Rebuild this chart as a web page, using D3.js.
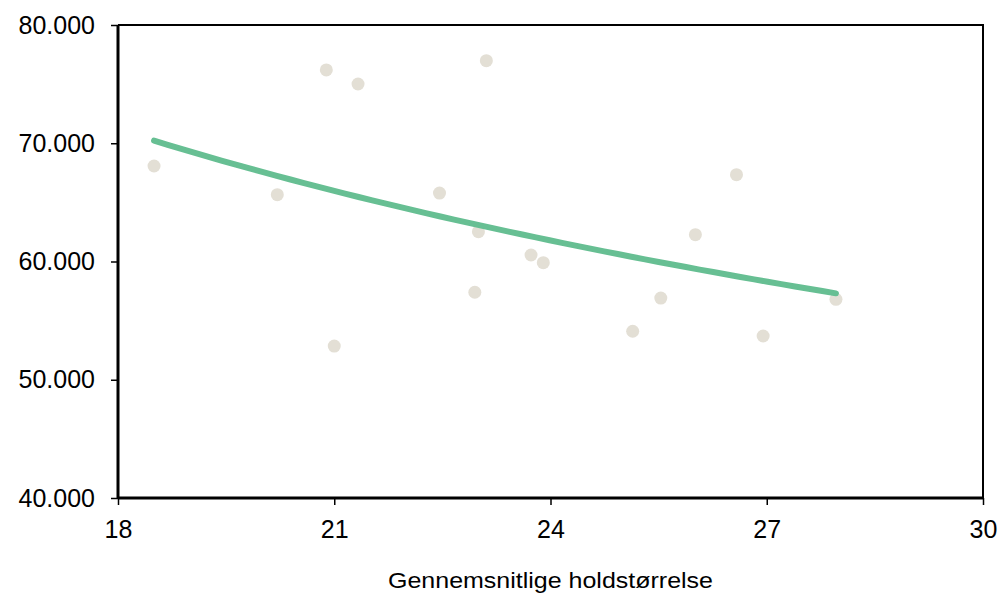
<!DOCTYPE html>
<html>
<head>
<meta charset="utf-8">
<script src="https://cdn.jsdelivr.net/npm/d3@7"></script>
<style>
  body { margin: 0; background: #fff; }
  text { font-family: "Liberation Sans", Arial, sans-serif; fill: #000; }
</style>
</head>
<body>
<svg id="chart" width="1000" height="597"></svg>
<script>
// holdstørrelse (x) og værdi (y)
var holdSize = [18.50, 20.21, 20.89, 21.00, 21.33, 22.46, 23.00, 22.95, 23.11,
                23.73, 23.90, 25.14, 25.53, 26.01, 26.58, 26.95, 27.96];
var values   = [68076, 65650, 76200, 52850, 75010, 65790, 62520, 57400, 76980,
                60550, 59900, 54100, 56910, 62270, 67340, 53700, 56800];

var xTicks = [18, 21, 24, 27, 30];
var yTicks = [40000, 50000, 60000, 70000, 80000];
var xTitle = "Gennemsnitlige holdstørrelse";

var svg = d3.select("#chart");

var x = d3.scaleLinear().domain([18, 30]).range([118, 983]);
var y = d3.scaleLinear().domain([40000, 80000]).range([498, 25]);

var fmt = function(d) { return d3.format(",")(d).replace(/,/g, "."); };

// top + right border
svg.append("path")
    .attr("d", "M" + x(18) + "," + y(80000) + "H" + x(30) + "V" + y(40000))
    .attr("fill", "none")
    .attr("stroke", "#000")
    .attr("stroke-width", 2);

// power trend line fitted on the points: y = a * x^b
var lx = holdSize.map(Math.log), ly = values.map(Math.log);
var mx = d3.mean(lx), my = d3.mean(ly);
var b = d3.sum(lx, function(v, i) { return (v - mx) * (ly[i] - my); }) /
        d3.sum(lx, function(v) { return (v - mx) * (v - mx); });
var a = Math.exp(my - b * mx);
var xMin = d3.min(holdSize), xMax = d3.max(holdSize);
var trend = d3.range(0, 51).map(function(i) {
  var xv = xMin + (xMax - xMin) * i / 50;
  return [xv, a * Math.pow(xv, b)];
});

// points
svg.append("g").selectAll("circle")
    .data(holdSize)
  .enter().append("circle")
    .attr("cx", function(d) { return x(d); })
    .attr("cy", function(d, i) { return y(values[i]); })
    .attr("r", 6.5)
    .attr("fill", "#e3dfd5");

svg.append("path")
    .datum(trend)
    .attr("fill", "none")
    .attr("stroke", "#67bf93")
    .attr("stroke-width", 6)
    .attr("stroke-linecap", "round")
    .attr("d", d3.line()
        .x(function(d) { return x(d[0]); })
        .y(function(d) { return y(d[1]); }));

// axes
var yAxis = svg.append("g")
    .attr("transform", "translate(" + x(18) + ",0)")
    .call(d3.axisLeft(y).tickValues(yTicks).tickFormat(fmt).tickSize(7).tickPadding(16));
var xAxis = svg.append("g")
    .attr("transform", "translate(0," + y(40000) + ")")
    .call(d3.axisBottom(x).tickValues(xTicks).tickSize(7).tickPadding(15));

[yAxis, xAxis].forEach(function(g) {
  g.select(".domain").attr("stroke", "#000").attr("stroke-width", 3);
  g.selectAll(".tick line").attr("stroke", "#000").attr("stroke-width", 1.5);
  g.selectAll(".tick text").attr("font-size", 25)
      .attr("font-family", "Liberation Sans, Arial, sans-serif");
});
yAxis.select(".domain").attr("d", "M0," + y(80000) + "V" + y(40000));
xAxis.select(".domain").attr("d", "M" + x(18) + ",0H" + x(30));

svg.append("text")
    .attr("x", (x(18) + x(30)) / 2)
    .attr("y", 588)
    .attr("text-anchor", "middle")
    .attr("font-size", 22)
    .attr("textLength", 325)
    .attr("lengthAdjust", "spacingAndGlyphs")
    .text(xTitle);
</script>
</body>
</html>
